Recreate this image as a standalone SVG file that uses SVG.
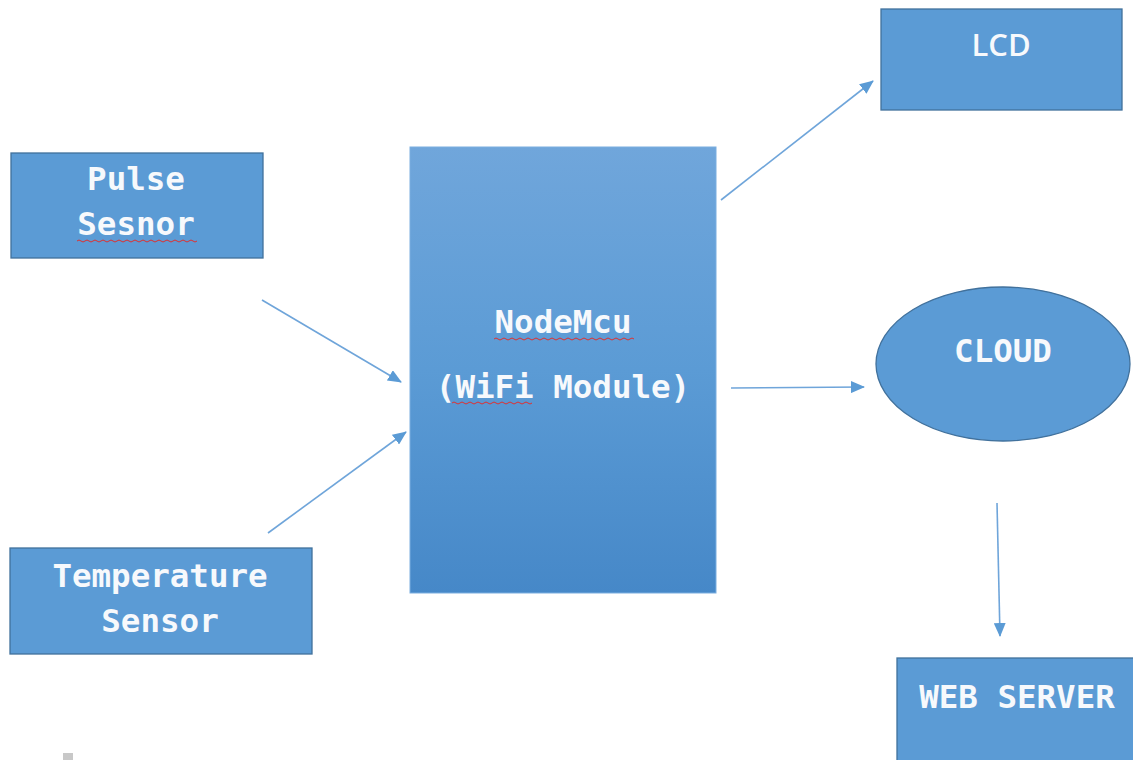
<svg xmlns="http://www.w3.org/2000/svg" width="1133" height="760" viewBox="0 0 1133 760">
<defs>
<style>
.box{fill:#5b9bd5;stroke:#41719c;stroke-width:1.3}
.t{font-family:"DejaVu Sans Mono","Liberation Mono",monospace;font-weight:bold;font-size:32.5px;fill:#f7f9fc;text-anchor:middle}
.s{font-family:"Open Sans","DejaVu Sans",sans-serif;font-weight:600;font-size:31px;fill:#f7f9fc;text-anchor:middle}
.c{fill:none;stroke:#6fa5da;stroke-width:1.6}
.w{fill:none;stroke:#e0302f;stroke-width:1}
</style>
<linearGradient id="g" x1="0" y1="0" x2="0" y2="1">
<stop offset="0" stop-color="#70a6db"/>
<stop offset="0.5" stop-color="#5b9bd5"/>
<stop offset="1" stop-color="#4688c8"/>
</linearGradient>
<marker id="a" markerWidth="14" markerHeight="12" refX="13" refY="6" orient="auto" markerUnits="userSpaceOnUse" viewBox="0 0 14 12">
<path d="M0,0 L14,6 L0,12 z" fill="#5b9bd5"/>
</marker>
</defs>
<rect width="1133" height="760" fill="#ffffff"/>
<g id="connectors">
<line class="c" x1="262" y1="300" x2="401" y2="382" marker-end="url(#a)"/>
<line class="c" x1="268" y1="533" x2="406" y2="432" marker-end="url(#a)"/>
<line class="c" x1="721" y1="200" x2="873" y2="81" marker-end="url(#a)"/>
<line class="c" x1="731" y1="388" x2="864" y2="387" marker-end="url(#a)"/>
<line class="c" x1="997" y1="503" x2="1000" y2="636" marker-end="url(#a)"/>
</g>
<g id="pulse">
<rect class="box" x="11" y="153" width="252" height="105"/>
<text class="t" x="136" y="190">Pulse</text>
<text class="t" x="136" y="235">Sesnor</text>
<path class="w" d="M77,241 q2,-2 4,0 t4,0 t4,0 t4,0 t4,0 t4,0 t4,0 t4,0 t4,0 t4,0 t4,0 t4,0 t4,0 t4,0 t4,0 t4,0 t4,0 t4,0 t4,0 t4,0 t4,0 t4,0 t4,0 t4,0 t4,0 t4,0 t4,0 t4,0 t4,0 t4,0"/>
</g>
<g id="temperature">
<rect class="box" x="10" y="548" width="302" height="106"/>
<text class="t" x="160" y="587">Temperature</text>
<text class="t" x="160" y="632">Sensor</text>
</g>
<g id="nodemcu">
<rect x="410" y="147" width="306" height="446" fill="url(#g)" stroke="#7aaee0" stroke-width="1"/>
<text class="t" x="563" y="333">NodeMcu</text>
<text class="t" x="563" y="398">(WiFi Module)</text>
<path class="w" d="M494,339 q2,-2 4,0 t4,0 t4,0 t4,0 t4,0 t4,0 t4,0 t4,0 t4,0 t4,0 t4,0 t4,0 t4,0 t4,0 t4,0 t4,0 t4,0 t4,0 t4,0 t4,0 t4,0 t4,0 t4,0 t4,0 t4,0 t4,0 t4,0 t4,0 t4,0 t4,0 t4,0 t4,0 t4,0 t4,0 t4,0"/>
<path class="w" d="M452,403 q2,-2 4,0 t4,0 t4,0 t4,0 t4,0 t4,0 t4,0 t4,0 t4,0 t4,0 t4,0 t4,0 t4,0 t4,0 t4,0 t4,0 t4,0 t4,0 t4,0 t4,0"/>
</g>
<g id="lcd">
<rect class="box" x="881" y="9" width="241" height="101"/>
<text class="s" x="1001" y="56">LCD</text>
</g>
<g id="cloud">
<ellipse class="box" cx="1003" cy="364" rx="127" ry="77"/>
<text class="t" x="1003" y="362">CLOUD</text>
</g>
<g id="webserver">
<rect class="box" x="897" y="658" width="240" height="106"/>
<text class="t" x="1017" y="708">WEB SERVER</text>
</g>
<rect x="63" y="753" width="10" height="7" fill="#c8c8c8"/>
</svg>
